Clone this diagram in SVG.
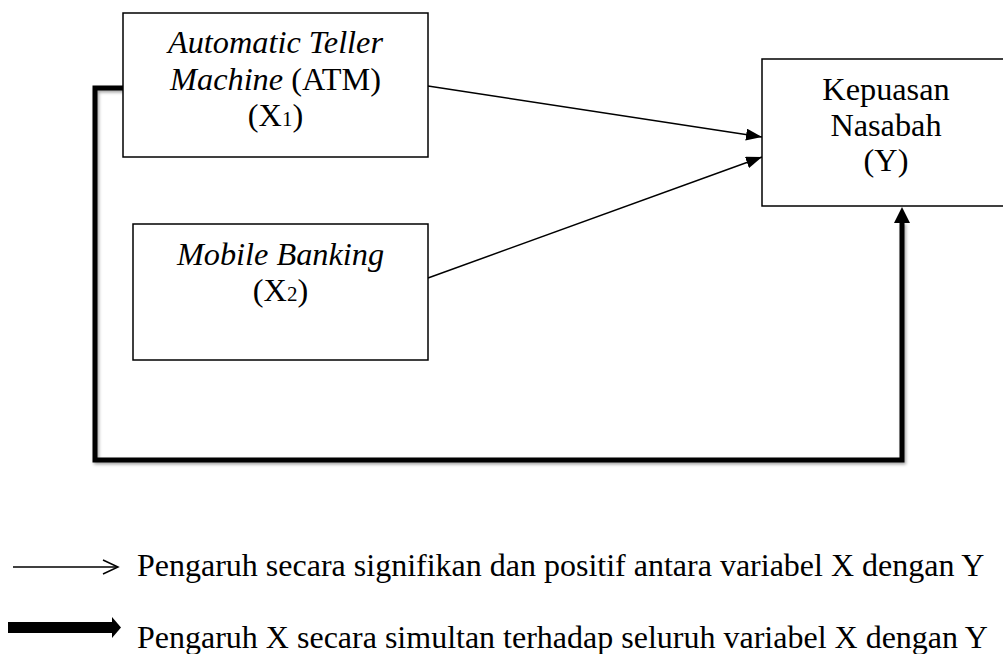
<svg xmlns="http://www.w3.org/2000/svg" width="1003" height="654" viewBox="0 0 1003 654">
<style>
.box{fill:#fff;stroke:#000;stroke-width:1.5}
.t{font-family:"Liberation Serif","Times New Roman",serif;font-size:32.3px;fill:#000;text-anchor:middle}
.lg{font-family:"Liberation Serif","Times New Roman",serif;font-size:32px;fill:#000}
.thin{fill:none;stroke:#000;stroke-width:1.5}
.thick{fill:none;stroke:#000;stroke-width:5;stroke-linejoin:miter}
.it{font-style:italic}
</style>
<defs>
<marker id="ah" markerUnits="userSpaceOnUse" markerWidth="17" markerHeight="12" refX="16" refY="6" orient="auto">
<path d="M0,0 L16,6 L0,12 Z" fill="#000"/>
</marker>
<filter id="sh" x="-5%" y="-5%" width="110%" height="110%">
<feDropShadow dx="1.5" dy="2" stdDeviation="1.5" flood-color="#000" flood-opacity="0.35"/>
</filter>
</defs>
<g id="connectors">
<path class="thick" filter="url(#sh)" d="M123,88 H95 V460 H902 V222"/>
<path class="thick" filter="url(#sh)" d="M95,293 H133"/>
<path d="M894,223 L902,207 L910,223 Z" fill="#000"/>
<line class="thin" x1="428" y1="86" x2="762" y2="137" marker-end="url(#ah)"/>
<line class="thin" x1="428" y1="278" x2="762" y2="157" marker-end="url(#ah)"/>
</g>
<g id="atm">
<rect class="box" x="123" y="13" width="305" height="144"/>
<text class="t it" x="275.5" y="53">Automatic Teller</text>
<text class="t" x="275.5" y="90"><tspan class="it">Machine</tspan> (ATM)</text>
<text class="t" x="275.5" y="126">(X<tspan font-size="21">1</tspan>)</text>
</g>
<g id="mobile">
<rect class="box" x="133" y="224" width="295" height="136"/>
<text class="t it" x="280.5" y="265">Mobile Banking</text>
<text class="t" x="280.5" y="301">(X<tspan font-size="21">2</tspan>)</text>
</g>
<g id="kepuasan">
<rect class="box" x="762" y="59" width="250" height="147"/>
<text class="t" x="886" y="100">Kepuasan</text>
<text class="t" x="886" y="136">Nasabah</text>
<text class="t" x="886" y="171">(Y)</text>
</g>
<g id="legend">
<line class="thin" x1="13" y1="567" x2="117" y2="567"/>
<path class="thin" d="M103,560 L118,567 L103,574"/>
<text class="lg" x="137" y="576">Pengaruh secara signifikan dan positif antara variabel X dengan Y</text>
<rect x="8" y="622" width="106" height="11" fill="#000"/>
<path d="M112,617 L121,627.5 L112,638 Z" fill="#000"/>
<text class="lg" x="137" y="648">Pengaruh X secara simultan terhadap seluruh variabel X dengan Y</text>
</g>
</svg>
